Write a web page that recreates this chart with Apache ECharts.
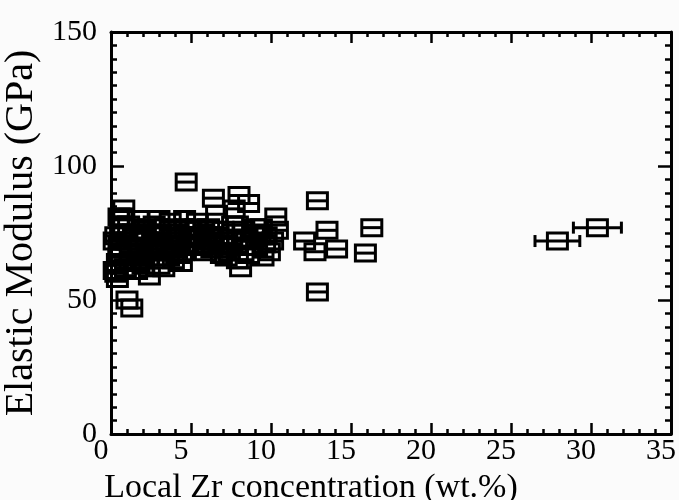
<!DOCTYPE html>
<html>
<head>
<meta charset="utf-8">
<script src="https://cdn.jsdelivr.net/npm/echarts@6/dist/echarts.min.js"></script>
<style>
html, body { margin: 0; padding: 0; background: #fbfbfb; }
#main { width: 679px; height: 500px; }
</style>
</head>
<body>
<div id="main"></div>
<script>
// Zr concentration (wt.%), elastic modulus (GPa), half-width of x error bar
var zrConc = [
	0.2, 0.3, 0.4, 0.5, 0.6, 0.7, 0.8, 0.5, 0.9, 1.0, 1.3, 1.1, 1.2, 0.3,
	1.5, 1.7, 1.9, 2.0, 2.2, 2.4, 2.5, 2.7, 2.9, 3.0, 1.6, 2.1,
	3.2, 3.4, 3.6, 3.8, 4.0, 4.2, 4.4, 4.6, 4.8, 5.0, 3.3, 4.1,
	5.2, 5.5, 5.8, 6.0, 6.3, 6.6, 6.9, 5.4, 6.2, 4.7,
	7.1, 7.4, 7.7, 7.9, 8.1, 8.3, 8.5, 8.8, 9.0, 9.3, 9.6, 9.9, 8.0, 7.5, 7.9, 7.9, 10.3, 6.4,
	0.4, 0.6, 0.8, 1.0, 1.2, 1.4, 1.8, 2.0, 2.3, 2.6, 2.8, 3.1, 3.5, 3.7, 3.9, 4.3, 4.5, 4.9, 5.1, 5.3,
	5.6, 5.9, 6.1, 6.4, 6.7, 7.0, 7.2, 7.6, 8.2, 8.6, 8.9, 9.1, 9.4, 9.7, 10.1, 10.4, 9.5, 1.7, 3.0, 0.2,
	0.5, 8.6,
	12.1, 12.75, 12.9, 13.5, 14.1, 16.3, 15.9, 12.9, 27.9, 30.4
];
var modulus = [
	72, 60, 58, 66, 75, 80, 84, 70, 62, 50, 47, 78, 68, 74,
	73, 70, 65, 76, 72, 59, 68, 78, 74, 63, 61, 76,
	70, 77, 66, 73, 69, 75, 64, 80, 71, 76, 62, 67,
	73, 70, 75, 72, 69, 82, 67, 79, 74, 94,
	71, 68, 84, 65, 62, 76, 73, 70, 77, 74, 71, 68, 89, 73, 70, 78, 81, 88,
	64, 69, 77, 72, 64, 75, 68, 63, 66, 72, 68, 75, 71, 79, 65, 72, 68, 74, 70, 77,
	73, 68, 77, 71, 74, 76, 66, 78, 72, 67, 75, 70, 77, 74, 72, 76, 66, 80, 80, 61,
	81, 86,
	72, 68, 87, 76, 69, 77, 67.5, 53, 72, 77
];
var zrErr = [];
for (var k = 0; k < zrConc.length - 10; k++) zrErr.push(0.3);
zrErr = zrErr.concat([0.3, 0.3, 0.3, 0.3, 0.4, 0.6, 0.4, 0.3, 1.4, 1.5]);
var xTicks = [0, 5, 10, 15, 20, 25, 30, 35];
var yTicks = [0, 50, 100, 150];

var points = [];
for (var i = 0; i < zrConc.length; i++) {
	points.push([zrConc[i], modulus[i], zrErr[i]]);
}

var FONT = 'Liberation Serif';

function renderPoint(params, api) {
	var x = api.value(0), y = api.value(1), e = api.value(2);
	var c = api.coord([x, y]);
	var l = api.coord([x - e, y]);
	var r = api.coord([x + e, y]);
	var w = 20, h = 16;
	var st = { stroke: '#000', fill: 'none', lineWidth: 3 };
	var kids = [];
	var x1 = Math.min(l[0], c[0] - w / 2), x2 = Math.max(r[0], c[0] + w / 2);
	kids.push({ type: 'line', shape: { x1: x1, y1: c[1], x2: x2, y2: c[1] }, style: st });
	if (r[0] - c[0] > w / 2) {
		kids.push({ type: 'line', shape: { x1: l[0], y1: c[1] - 6, x2: l[0], y2: c[1] + 6 }, style: st });
		kids.push({ type: 'line', shape: { x1: r[0], y1: c[1] - 6, x2: r[0], y2: c[1] + 6 }, style: st });
	}
	kids.push({ type: 'rect', shape: { x: c[0] - w / 2, y: c[1] - h / 2, width: w, height: h }, style: st });
	return { type: 'group', children: kids };
}

function axisBase(show) {
	return {
		axisLine: { show: true, onZero: false, lineStyle: { color: '#000', width: 3 } },
		axisTick: { show: true, inside: true, length: 11, lineStyle: { color: '#000', width: 2.5 } },
		minorTick: { show: true, length: 5, lineStyle: { color: '#000', width: 2.5 } },
		splitLine: { show: false },
		axisLabel: { show: show, color: '#000', fontFamily: FONT, fontSize: 30 }
	};
}

var myChart = echarts.init(document.getElementById('main'));
var xA = axisBase(true), xB = axisBase(false), yA = axisBase(true), yB = axisBase(false);
[xA, xB].forEach(function(a) {
	a.type = 'value'; a.min = xTicks[0]; a.max = xTicks[xTicks.length - 1]; a.interval = 5;
	a.minorTick.splitNumber = 5;
});
[yA, yB].forEach(function(a) {
	a.type = 'value'; a.min = yTicks[0]; a.max = yTicks[yTicks.length - 1]; a.interval = 50;
	a.minorTick.splitNumber = 10;
	a.axisTick.length = 13; a.minorTick.length = 6;
});
xA.position = 'bottom';
xA.axisLabel.margin = 2;
xA.axisLabel.padding = [0, 20, 0, 0];
xA.name = 'Local Zr concentration (wt.%)';
xA.nameLocation = 'middle';
xA.nameGap = 29;
xA.nameTextStyle = { color: '#000', fontFamily: FONT, fontSize: 34, padding: [0, 160, 0, 0] };
xB.position = 'top';
yA.position = 'left';
yA.axisLabel.margin = 14;
yA.name = 'Elastic Modulus (GPa)';
yA.nameLocation = 'middle';
yA.nameGap = 66;
yA.nameTextStyle = { color: '#000', fontFamily: FONT, fontSize: 40 };
yB.position = 'right';

option = {
	backgroundColor: '#fbfbfb',
	animation: false,
	grid: { left: 111, right: 8, top: 32, bottom: 66, containLabel: false, outerBoundsMode: 'none' },
	xAxis: [xA, xB],
	yAxis: [yA, yB],
	series: [{
		type: 'custom',
		renderItem: renderPoint,
		xAxisIndex: 0,
		yAxisIndex: 0,
		data: points
	}]
};
myChart.setOption(option);
</script>
</body>
</html>
